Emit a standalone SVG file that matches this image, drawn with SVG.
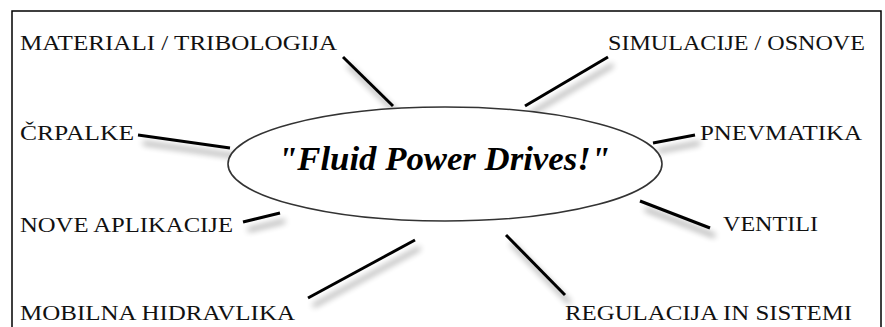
<svg xmlns="http://www.w3.org/2000/svg" width="885" height="327" viewBox="0 0 885 327">
<defs>
<filter id="sh" x="-50%" y="-50%" width="200%" height="200%">
<feGaussianBlur in="SourceAlpha" stdDeviation="3"/>
<feOffset dx="5" dy="8" result="b"/>
<feComponentTransfer in="b" result="c"><feFuncA type="linear" slope="0.45"/></feComponentTransfer>
<feMerge><feMergeNode in="c"/><feMergeNode in="SourceGraphic"/></feMerge>
</filter>
</defs>
<style>
.lbl{font-family:"Liberation Serif","Times New Roman",serif;font-size:22px;fill:#111}
.ln{stroke:#000;stroke-width:3;stroke-linecap:butt;fill:none}
</style>
<rect x="0" y="0" width="885" height="327" fill="#fff"/>
<rect x="12" y="11" width="869" height="330" fill="none" stroke="#000" stroke-width="1.5"/>
<g id="connectors" filter="url(#sh)">
<line class="ln" x1="343" y1="57" x2="393" y2="106"/>
<line class="ln" x1="608" y1="57" x2="525" y2="106"/>
<line class="ln" x1="138" y1="135" x2="230" y2="148"/>
<line class="ln" x1="653" y1="143" x2="695" y2="135"/>
<line class="ln" x1="243" y1="222" x2="280" y2="213"/>
<line class="ln" x1="308" y1="298" x2="415" y2="240"/>
<line class="ln" x1="640" y1="201" x2="710" y2="228"/>
<line class="ln" x1="506" y1="235" x2="565" y2="295"/>
</g>
<g id="center">
<ellipse cx="445" cy="164" rx="217" ry="57" fill="#fff" stroke="#333" stroke-width="1.6"/>
<text x="278" y="170" textLength="332" lengthAdjust="spacingAndGlyphs" style="font-family:'Liberation Serif','Times New Roman',serif;font-size:33px;font-weight:bold;font-style:italic;fill:#000">"Fluid Power Drives!"</text>
</g>
<g id="n-materiali"><text class="lbl" x="20" y="50" textLength="317" lengthAdjust="spacingAndGlyphs">MATERIALI / TRIBOLOGIJA</text></g>
<g id="n-simulacije"><text class="lbl" x="608" y="50" textLength="257" lengthAdjust="spacingAndGlyphs">SIMULACIJE / OSNOVE</text></g>
<g id="n-crpalke"><text class="lbl" x="20" y="140" textLength="114" lengthAdjust="spacingAndGlyphs">ČRPALKE</text></g>
<g id="n-pnevmatika"><text class="lbl" x="700" y="140" textLength="162" lengthAdjust="spacingAndGlyphs">PNEVMATIKA</text></g>
<g id="n-nove"><text class="lbl" x="20" y="232" textLength="213" lengthAdjust="spacingAndGlyphs">NOVE APLIKACIJE</text></g>
<g id="n-ventili"><text class="lbl" x="723" y="231" textLength="95" lengthAdjust="spacingAndGlyphs">VENTILI</text></g>
<g id="n-mobilna"><text class="lbl" x="20" y="320" textLength="275" lengthAdjust="spacingAndGlyphs">MOBILNA HIDRAVLIKA</text></g>
<g id="n-regulacija"><text class="lbl" x="565" y="320" textLength="287" lengthAdjust="spacingAndGlyphs">REGULACIJA IN SISTEMI</text></g>
</svg>
